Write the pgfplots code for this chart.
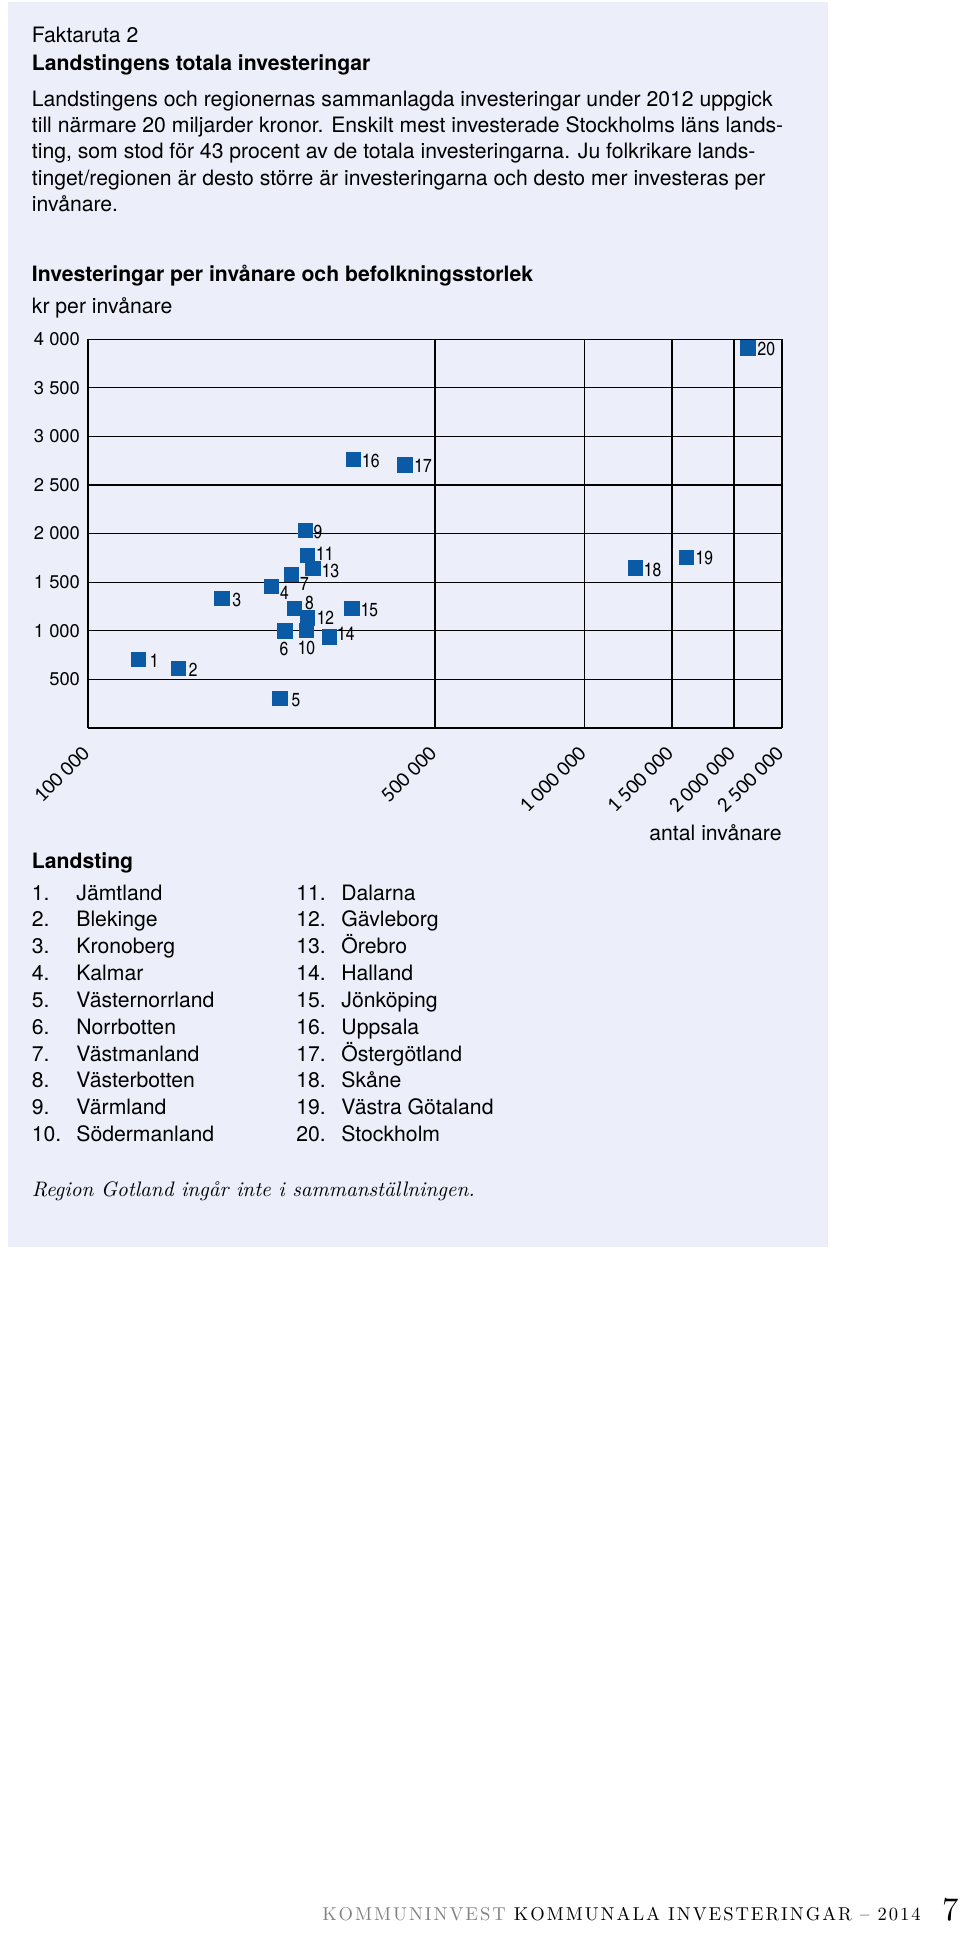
\documentclass[border=0pt]{standalone}
\usepackage{fontspec}
\usepackage{pgfplots}
\usepackage{pgfplotstable}
\pgfplotsset{compat=1.18}
\setmainfont{TeX Gyre Heros}
\newfontfamily\carlito{Carlito}
\newfontfamily\heroscn{texgyreheroscn}[Extension=.otf, UprightFont=*-regular, BoldFont=*-bold]
\newfontfamily\lmfoot{lmroman10-regular.otf}[LetterSpace=10.5]
\newfontfamily\lmit{lmroman10-italic.otf}
\definecolor{bgbox}{RGB}{236,239,249}
\definecolor{mblue}{RGB}{10,90,166}
\definecolor{footgray}{RGB}{130,130,130}

\pgfplotstableread{
x y lab dx dy
126260 703 1 7.9 -0.4
152300 613 2 7.3 -0.85
186000 1333 3 7.4 -1
233900 1457 4 6.65 -3.25
243500 304 5 8 -0.85
249200 997 6 -0.5 -8.85
256600 1576 7 6.6 -4.65
260600 1231 8 7.45 2.85
273900 2029 9 6.4 -0.75
275400 1000 10 0 -8.5
277100 1774 11 8.5 1
276700 1130 12 9 0
283800 1642 13 8.75 -1.2
306200 935 14 8.25 1.4
340200 1230 15 8.75 -0.85
342200 2764 16 8.75 -1
435100 2706 17 9.05 -0.65
1266000 1645 18 8.6 -0.85
1604000 1756 19 9 -0.5
2134000 3910 20 9.2 -0.65
}\datatable

\newcommand{\bodyfont}{\fontsize{10.6}{13}\selectfont}
\begin{document}
\begin{tikzpicture}[x=0.5pt,y=-0.5pt]
\fill[white] (0,0) rectangle (960,1935);
\fill[bgbox] (8,2) rectangle (828,1247);

\node[anchor=base west, inner sep=0] at (31.5,42.3) {\bodyfont Faktaruta 2};
\node[anchor=base west, inner sep=0] at (31.5,70) {\bodyfont\bfseries Landstingens totala investeringar};
\node[anchor=base west, inner sep=0] at (31.5,106) {\bodyfont Landstingens och regionernas sammanlagda investeringar under 2012 uppgick};
\node[anchor=base west, inner sep=0] at (31.5,132.4) {\bodyfont till närmare 20 miljarder kronor. Enskilt mest investerade Stockholms läns lands-};
\node[anchor=base west, inner sep=0] at (31.5,158.8) {\bodyfont ting, som stod för 43 procent av de totala investeringarna. Ju folkrikare lands-};
\node[anchor=base west, inner sep=0] at (31.5,185.2) {\bodyfont tinget/regionen är desto större är investeringarna och desto mer investeras per};
\node[anchor=base west, inner sep=0] at (31.5,211.6) {\bodyfont invånare.};

\node[anchor=base west, inner sep=0] at (31.5,281.7) {\bodyfont\bfseries Investeringar per invånare och befolkningsstorlek};
\node[anchor=base west, inner sep=0] at (31.5,313.3) {\bodyfont kr per invånare};

\begin{axis}[
  at={(44pt,-363.9pt)}, anchor=south west,
  scale only axis, width=347pt, height=194.25pt,
  xmode=log, xmin=1e5, xmax=2.5e6, ymin=0, ymax=4000,
  axis x line*=bottom, axis y line*=left,
  axis line style={-, line width=1.1pt, black},
  xtick={1e5,5e5,1e6,1.5e6,2e6,2.5e6},
  xticklabels={100 000,500 000,1 000 000,1 500 000,2 000 000,2 500 000},
  ytick={500,1000,1500,2000,2500,3000,3500,4000},
  yticklabels={500,1 000,1 500,2 000,2 500,3 000,3 500,4 000},
  xminorticks=false, yminorticks=false,
  major tick length=0pt,
  xmajorgrids, ymajorgrids,
  x grid style={black, line width=0.85pt},
  y grid style={black, line width=0.55pt},
  xticklabel style={font=\carlito\fontsize{10.5}{12}\selectfont, rotate=45, anchor=east, yshift=-7pt, xshift=-5pt},
  yticklabel style={font=\fontsize{9.2}{10}\selectfont, xshift=-0.5pt},
  clip=false,
]
\addplot[only marks, mark=square*, mark size=3.6pt,
  mark options={fill=mblue, draw=mblue, line width=0pt},
  point meta=explicit symbolic,
  visualization depends on={\thisrow{dx} \as \mydx},
  visualization depends on={\thisrow{dy} \as \mydy},
  nodes near coords,
  every node near coord/.append style={anchor=center, inner sep=0pt, text=black,
    font=\heroscn\fontsize{9.5}{10}\selectfont, xshift=\mydx pt, yshift=\mydy pt}]
  table[x=x, y=y, meta=lab] {\datatable};
\end{axis}

\node[anchor=base east, inner sep=0] at (782,840) {\bodyfont antal invånare};

\node[anchor=base west, inner sep=0] at (31.5,868.3) {\bodyfont\bfseries Landsting};
\foreach \n/\name [count=\i from 0] in {1./Jämtland,2./Blekinge,3./Kronoberg,4./Kalmar,5./Västernorrland,6./Norrbotten,7./Västmanland,8./Västerbotten,9./Värmland,10./Södermanland}{
  \node[anchor=base west, inner sep=0] at (31.5,900+26.85*\i) {\bodyfont \n};
  \node[anchor=base west, inner sep=0] at (76,900+26.85*\i) {\bodyfont \name};
}
\foreach \n/\name [count=\i from 0] in {11./Dalarna,12./Gävleborg,13./Örebro,14./Halland,15./Jönköping,16./Uppsala,17./Östergötland,18./Skåne,19./Västra Götaland,20./Stockholm}{
  \node[anchor=base west, inner sep=0] at (296,900+26.85*\i) {\bodyfont \n};
  \node[anchor=base west, inner sep=0] at (341,900+26.85*\i) {\bodyfont \name};
}

\node[anchor=base west, inner sep=0] at (31.5,1196) {\lmit\fontsize{10.5}{12}\selectfont Region Gotland ingår inte i sammanställningen.};

\node[anchor=base east, inner sep=0] at (921,1920) {\lmfoot\fontsize{9.3}{11}\selectfont \textcolor{footgray}{KOMMUNINVEST} KOMMUNALA INVESTERINGAR – 2014};
\node[anchor=base east, inner sep=0] at (959,1920) {\lmfoot\fontsize{16.5}{18}\selectfont 7};
\end{tikzpicture}
\end{document}
